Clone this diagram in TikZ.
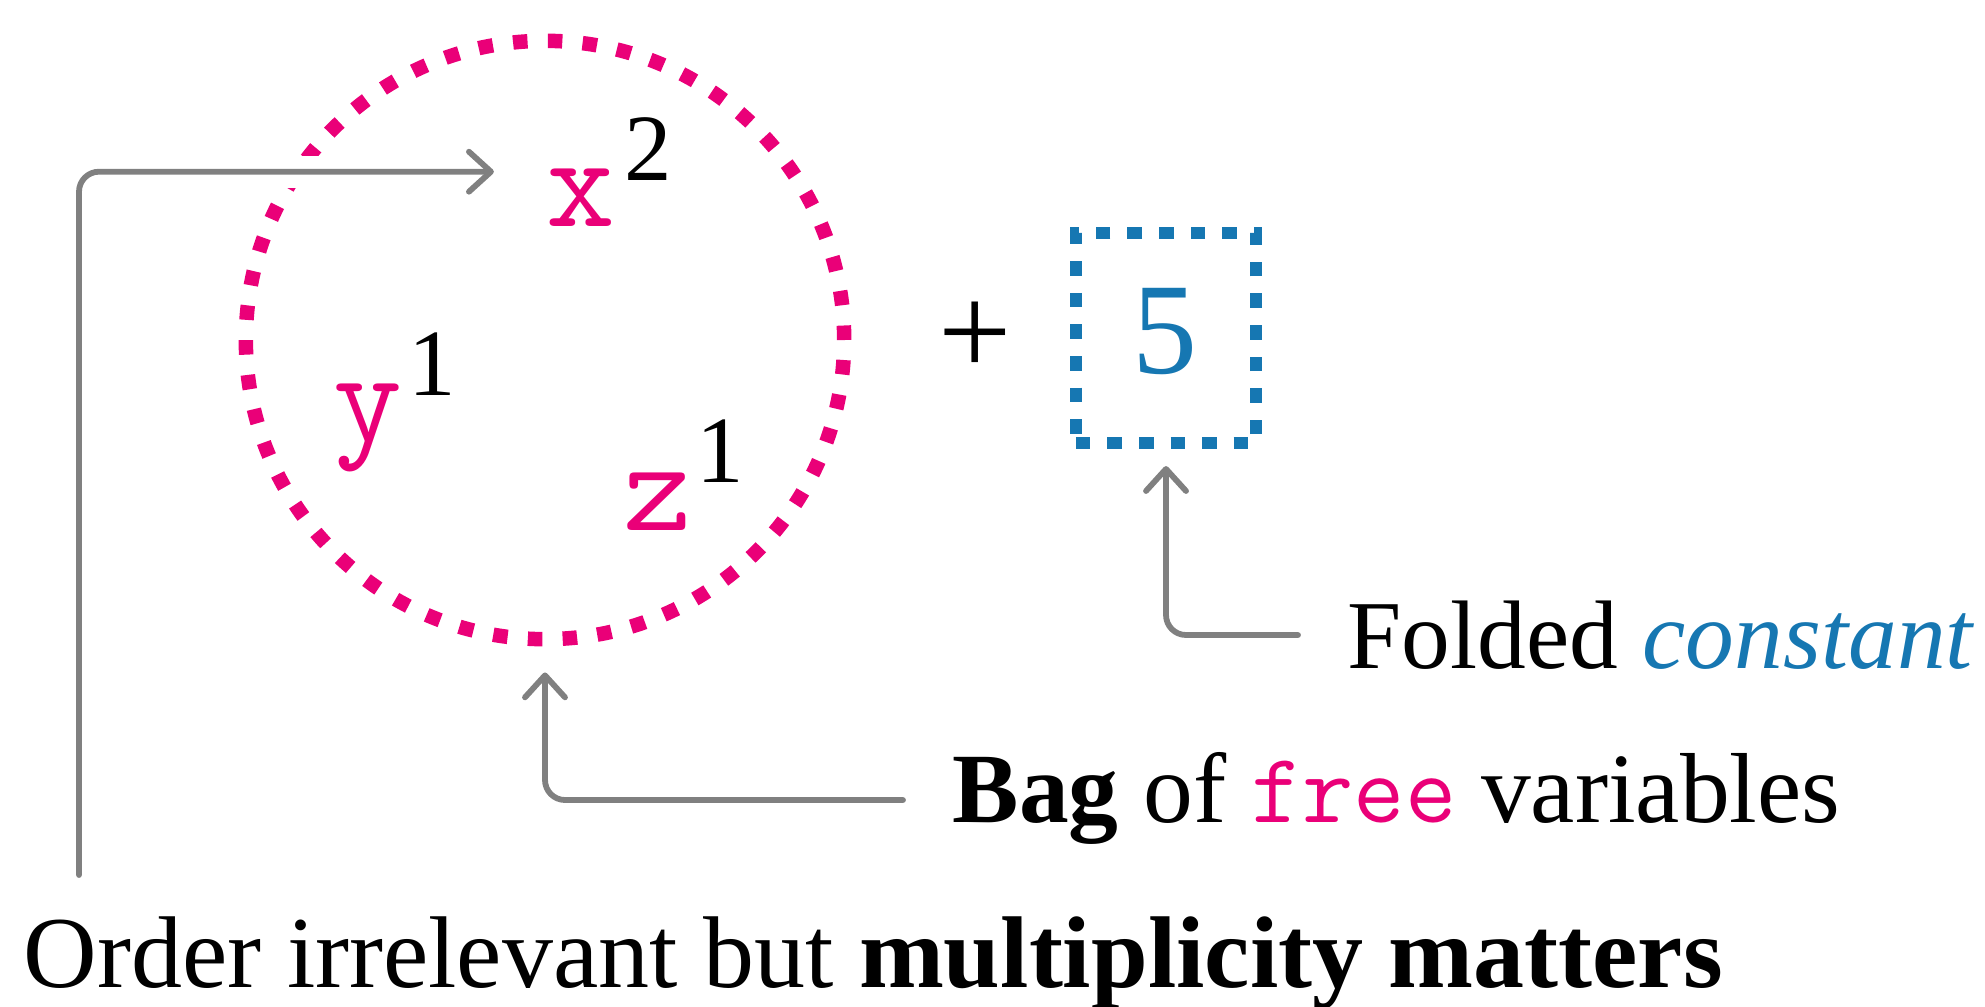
\documentclass[tikz,border=0pt]{standalone}
\usepackage{fontspec}
\setmainfont{Liberation Serif}
\usetikzlibrary{arrows.meta}
\definecolor{bagpink}{RGB}{234,0,120}
\definecolor{cblue}{RGB}{22,119,178}
\definecolor{conngrey}{RGB}{128,128,128}
\begin{document}
\begin{tikzpicture}[x=0.01cm,y=-0.01cm,
  conn/.style={draw=conngrey, line width=0.058cm, rounded corners=0.2cm, line cap=round,
    -{Straight Barb[length=0.22cm,width=0.40cm,round]}},
  bagcircle/.style={circle, draw=bagpink, line width=0.145cm, minimum size=5.98cm,
    inner sep=0pt, dash pattern=on 0.145cm off 0.203cm},
  constbox/.style={rectangle, draw=cblue, line width=0.12cm, minimum width=1.8cm,
    minimum height=2.1cm, inner sep=0pt, dash pattern=on 0.145cm off 0.17cm},
  var/.style={inner sep=0pt, anchor=base, text=bagpink, font=\fontsize{38}{44}\ttfamily},
  expo/.style={inner sep=0pt, anchor=base, text=black, font=\fontsize{27}{32}\selectfont},
  big/.style={inner sep=0pt, font=\fontsize{37}{44}\selectfont},
  label/.style={inner sep=0pt, anchor=base west}]
\useasboundingbox (0,0) rectangle (1985,1006);
% bag and constant
\node[bagcircle] (bag) at (545,340) {};
\node[constbox] (cbox) at (1166,338) {};
\node[var] (xv) at (581,226) {x};
\node[expo] (xs) at (648,180) {2};
\node[var] (yv) at (368,441) {y};
\node[expo] (ys) at (432,395) {1};
\node[var] (zv) at (658,530) {z};
\node[expo] (zs) at (720,482) {1};
\node[big, anchor=center] (plus) at (975,339) {+};
\node[big, anchor=base, text=cblue] (five) at (1165,373) {5};
% labels
\node[label, font=\fontsize{27.7}{33}\selectfont] (folded) at (1347,668)
  {Folded \textit{\textcolor{cblue}{constant}}};
\node[label, font=\fontsize{28.3}{34}\selectfont] (bagl) at (952,822)
  {\textbf{Bag} of {\ttfamily\textcolor{bagpink}{free}} variables};
\node[label, font=\fontsize{29}{35}\selectfont] (order) at (23,987)
  {Order irrelevant but \textbf{multiplicity matters}};
% connectors
\coordinate (fTail) at (1298,635);
\coordinate (bTail) at (903,800);
\coordinate (oTail) at (79,875);
\coordinate (xTip) at ([xshift=-0.52cm,yshift=-0.04cm]xv.north west);
\draw[conn] (fTail) -| ([yshift=-0.17cm]cbox.south);
\draw[conn] (bTail) -| ([yshift=-0.26cm]bag.south);
\draw[white, line width=0.32cm] (oTail |- xTip) -- (xTip);
\draw[conn] (oTail) |- (xTip);
\end{tikzpicture}
\end{document}
